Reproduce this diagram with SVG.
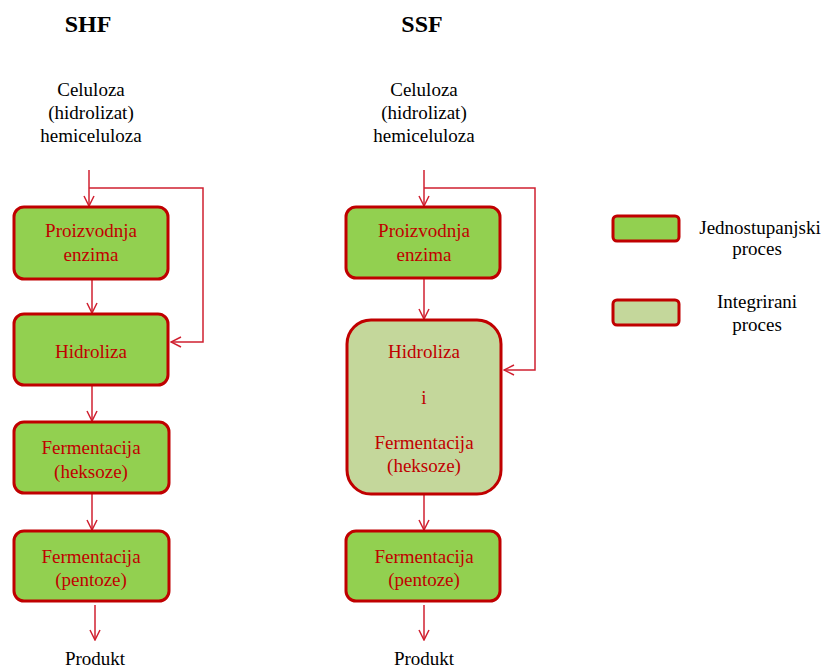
<svg xmlns="http://www.w3.org/2000/svg" width="828" height="669" viewBox="0 0 828 669">
<defs>
<style>
.t{font-family:"Liberation Serif","Times New Roman",serif;font-size:19px;text-anchor:middle;fill:#000}
.h{font-family:"Liberation Serif","Times New Roman",serif;font-size:24px;font-weight:bold;text-anchor:middle;fill:#000}
.b{font-family:"Liberation Serif","Times New Roman",serif;font-size:19px;text-anchor:middle;fill:#C00000}
.g{fill:#92D050;stroke:#C00000;stroke-width:3}
.lg{fill:#C4D79B;stroke:#C00000;stroke-width:3}
.c{fill:none;stroke:#D02030;stroke-width:1.5;marker-end:url(#a)}
</style>
<marker id="a" viewBox="0 0 12 12" refX="11" refY="6" markerWidth="12" markerHeight="12" markerUnits="userSpaceOnUse" orient="auto">
<path d="M1,1 L11,6 L1,11" fill="none" stroke="#D02030" stroke-width="1.5"/>
</marker>
</defs>
<rect width="828" height="669" fill="#fff"/>
<text class="h" x="88" y="32">SHF</text>
<text class="h" x="422" y="32">SSF</text>
<g id="in1"><text class="t" x="91" y="96">Celuloza</text><text class="t" x="91" y="119">(hidrolizat)</text><text class="t" x="91" y="142">hemiceluloza</text></g>
<g id="in2"><text class="t" x="424" y="96">Celuloza</text><text class="t" x="424" y="119">(hidrolizat)</text><text class="t" x="424" y="142">hemiceluloza</text></g>
<g id="connectors">
<path class="c" d="M89,170 V206"/>
<path class="c" d="M89,188 H203 V342 H171"/>
<path class="c" d="M92,280 V313"/>
<path class="c" d="M92,386 V421"/>
<path class="c" d="M92,494 V530"/>
<path class="c" d="M95,605 V640"/>
<path class="c" d="M424,170 V206"/>
<path class="c" d="M424,188 H535 V370 H504"/>
<path class="c" d="M424,279 V319"/>
<path class="c" d="M424,495 V530"/>
<path class="c" d="M424,605 V640"/>
</g>
<g id="shf1"><rect class="g" x="14" y="207" width="154" height="72" rx="10"/><text class="b" x="91" y="237">Proizvodnja</text><text class="b" x="91" y="261">enzima</text></g>
<g id="shf2"><rect class="g" x="14" y="314" width="154" height="71" rx="10"/><text class="b" x="91" y="358">Hidroliza</text></g>
<g id="shf3"><rect class="g" x="14" y="422" width="155" height="71" rx="10"/><text class="b" x="91" y="454">Fermentacija</text><text class="b" x="91" y="478">(heksoze)</text></g>
<g id="shf4"><rect class="g" x="14" y="531" width="155" height="70" rx="10"/><text class="b" x="91" y="563">Fermentacija</text><text class="b" x="91" y="586">(pentoze)</text></g>
<g id="ssf1"><rect class="g" x="346" y="207" width="154" height="71" rx="10"/><text class="b" x="424" y="237">Proizvodnja</text><text class="b" x="424" y="261">enzima</text></g>
<g id="ssf2"><rect class="lg" x="347" y="320" width="154" height="174" rx="24"/><text class="b" x="424" y="358">Hidroliza</text><text class="b" x="424" y="404">i</text><text class="b" x="424" y="449">Fermentacija</text><text class="b" x="424" y="472">(heksoze)</text></g>
<g id="ssf3"><rect class="g" x="346" y="531" width="154" height="70" rx="10"/><text class="b" x="424" y="563">Fermentacija</text><text class="b" x="424" y="586">(pentoze)</text></g>
<g id="out1"><text class="t" x="95" y="665">Produkt</text></g>
<g id="out2"><text class="t" x="424" y="665">Produkt</text></g>
<g id="leg1"><rect class="g" x="613" y="216" width="66" height="25" rx="4"/><text class="t" x="760" y="234">Jednostupanjski</text><text class="t" x="757" y="255">proces</text></g>
<g id="leg2"><rect class="lg" x="613" y="300" width="66" height="25" rx="4"/><text class="t" x="757" y="308">Integrirani</text><text class="t" x="757" y="331">proces</text></g>
</svg>
